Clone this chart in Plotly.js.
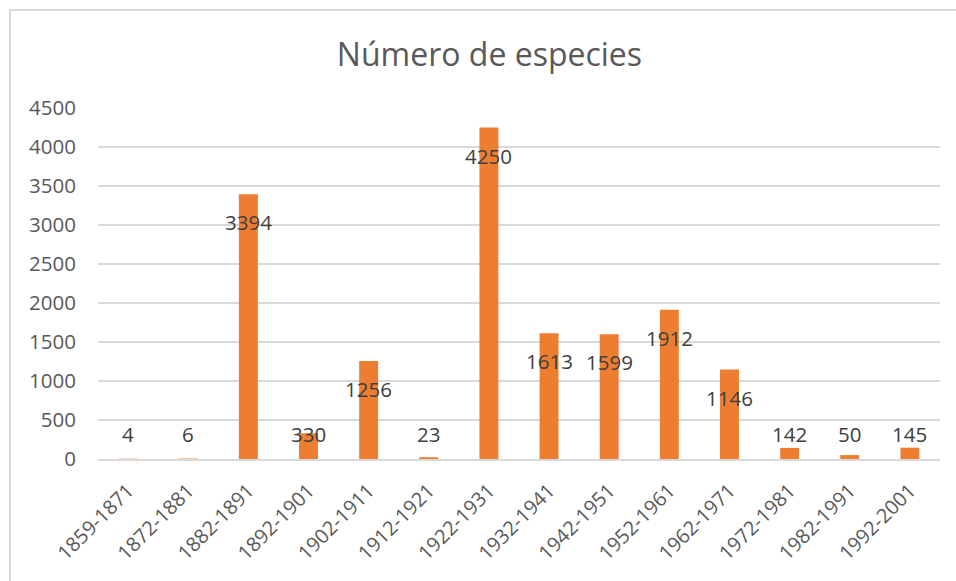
<!DOCTYPE html>
<html>
<head>
<meta charset="utf-8">
<script src="https://cdn.plot.ly/plotly-3.0.1.min.js"></script>
<style>
  html, body { margin: 0; padding: 0; background: #fff; }
  #wrap { position: relative; width: 956px; height: 581px; overflow: hidden; }
  #chart { width: 956px; height: 581px; }
  #frame { position: absolute; left: 9px; top: 9px; width: 1000px; height: 1000px;
           border-left: 2px solid #D9D9D9; border-top: 2px solid #D9D9D9; pointer-events: none; }
</style>
</head>
<body>
<div id="wrap">
  <div id="chart"></div>
  <div id="frame"></div>
</div>
<script>
const categories = ["1859-1871","1872-1881","1882-1891","1892-1901","1902-1911","1912-1921","1922-1931","1932-1941","1942-1951","1952-1961","1962-1971","1972-1981","1982-1991","1992-2001"];
const species = [4, 6, 3394, 330, 1256, 23, 4250, 1613, 1599, 1912, 1146, 142, 50, 145];
const yTicks = [0, 500, 1000, 1500, 2000, 2500, 3000, 3500, 4000, 4500];

const yMax = 4500;
const margin = {l: 98, r: 16, t: 108, b: 122};
const plotH = 581 - margin.t - margin.b;

const annotations = species.map((v, i) => {
  const px = v / yMax * plotH;
  const center = Math.max(px - 28, 25);
  return {
    x: categories[i], y: v, xref: 'x', yref: 'y',
    text: String(v), showarrow: false,
    yanchor: 'middle', yshift: center - px,
    font: {family: 'Open Sans, sans-serif', size: 20.5, color: '#404040'}
  };
});

const trace = {
  type: 'bar',
  x: categories,
  y: species,
  marker: {color: '#ED7D31'},
  hoverinfo: 'x+y'
};

const layout = {
  width: 956, height: 581,
  margin: margin,
  paper_bgcolor: '#ffffff',
  plot_bgcolor: '#ffffff',
  bargap: 0.685,
  showlegend: false,
  title: {
    text: 'Número de especies',
    font: {family: 'Open Sans, sans-serif', size: 32, color: '#595959'},
    xref: 'container', x: 0.512, xanchor: 'center', y: 0.905, yanchor: 'middle'
  },
  xaxis: {
    type: 'category',
    range: [-0.5, categories.length - 0.5],
    tickangle: -45,
    tickfont: {family: 'Open Sans, sans-serif', size: 20, color: '#595959'},
    showgrid: false,
    showline: true, linecolor: '#D9D9D9', linewidth: 2,
    ticks: '', ticklen: 0, ticklabelstandoff: 10
  },
  yaxis: {
    range: [0, yMax],
    tickvals: yTicks,
    ticktext: yTicks.map(String),
    tickfont: {family: 'Open Sans, sans-serif', size: 20.5, color: '#595959'},
    showgrid: true, gridcolor: '#D9D9D9', gridwidth: 2,
    zeroline: false, showline: false,
    ticks: '', ticklabelstandoff: 21
  },
  annotations: annotations
};

Plotly.newPlot('chart', [trace], layout, {displayModeBar: false, staticPlot: true});
</script>
</body>
</html>
